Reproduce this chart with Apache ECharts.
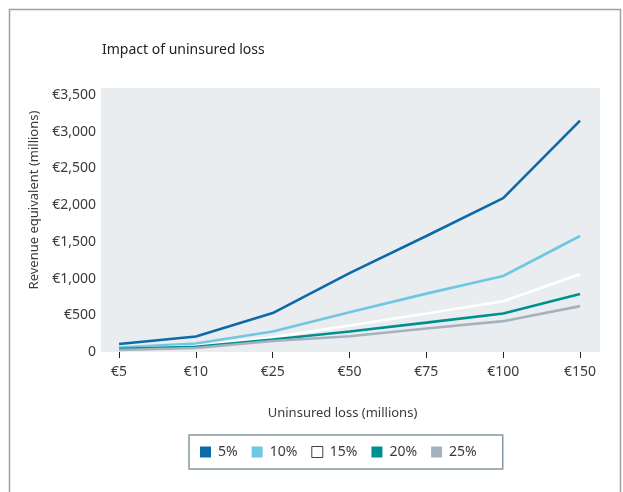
<!DOCTYPE html>
<html>
<head>
<meta charset="utf-8">
<script src="https://cdn.jsdelivr.net/npm/echarts@6/dist/echarts.min.js"></script>
<style>
  html, body { margin: 0; padding: 0; background: #fff; }
  #chart { width: 623px; height: 492px; }
</style>
</head>
<body>
<div id="chart"></div>
<script>
// uninsured loss categories (millions)
var categories = ['€5', '€10', '€25', '€50', '€75', '€100', '€150'];
var yTicks = [0, 500, 1000, 1500, 2000, 2500, 3000, 3500];

// revenue equivalent per profit margin
var margin5 = [110, 210, 530, 1075, 1580, 2095, 3150];
var margin10 = [60, 115, 280, 540, 795, 1035, 1580];
var margin15 = [40, 80, 200, 360, 525, 690, 1060];
var margin20 = [45, 70, 170, 280, 400, 525, 790];
var margin25 = [27, 55, 150, 215, 320, 420, 625];

var names = ['5%', '10%', '15%', '20%', '25%'];
var colors = ['#0b6aa7', '#6fc7e1', '#ffffff', '#008f8f', '#a5b2bb'];
var allData = [margin5, margin10, margin15, margin20, margin25];

var font = 'Noto Sans';
var textColor = '#3a3a3a';

function pts(arr) {
  return arr.map(function (v, i) { return [i, v]; });
}

var series = allData.map(function (arr, k) {
  return {
    name: names[k],
    type: 'line',
    data: pts(arr),
    symbol: 'none',
    smooth: false,
    lineStyle: { color: colors[k], width: 2.6 },
    itemStyle: { color: colors[k] }
  };
});

var chart = echarts.init(document.getElementById('chart'));
chart.setOption({
  animation: false,
  textStyle: { fontFamily: font },
  graphic: [{
    type: 'rect',
    silent: true,
    shape: { x: 9.5, y: 9.5, width: 611, height: 500 },
    style: { fill: 'none', stroke: '#97a3a9', lineWidth: 1.5 }
  }],
  title: {
    text: 'Impact of uninsured loss',
    left: 97,
    top: 38,
    textStyle: { fontFamily: font, fontSize: 14, fontWeight: 'normal', color: '#222' }
  },
  legend: {
    left: 189,
    top: 435,
    padding: [10, 26, 10, 11],
    borderColor: '#8796a0',
    borderWidth: 1.5,
    itemWidth: 11,
    itemHeight: 11,
    itemGap: 14,
    icon: 'rect',
    textStyle: { fontFamily: font, fontSize: 14, color: textColor, padding: [0, 0, 0, 2] },
    data: names.map(function (n, k) {
      var d = { name: n, itemStyle: { color: colors[k] } };
      if (k === 2) d.itemStyle = { color: '#fff', borderColor: '#444', borderWidth: 1 };
      return d;
    })
  },
  grid: {
    left: 101,
    right: 23,
    top: 88,
    bottom: 140,
    show: true,
    backgroundColor: '#e9edf0',
    borderWidth: 0,
    outerBoundsMode: 'none'
  },
  xAxis: {
    type: 'value',
    min: -0.235,
    max: 6.26,
    name: 'Uninsured loss (millions)',
    nameLocation: 'middle',
    nameGap: 55,
    nameTextStyle: { fontFamily: font, fontSize: 13, color: textColor, padding: [0, 16, 0, 0] },
    axisLine: { show: false },
    splitLine: { show: false },
    axisTick: {
      show: true,
      length: 6,
      customValues: categories.map(function (c, i) { return i; }),
      lineStyle: { color: '#222', width: 1 }
    },
    axisLabel: {
      customValues: categories.map(function (c, i) { return i; }),
      margin: 13,
      fontFamily: font,
      fontSize: 14,
      color: textColor,
      formatter: function (v) { return categories[Math.round(v)]; }
    }
  },
  yAxis: {
    type: 'value',
    min: 0,
    max: 3595,
    name: 'Revenue equivalent (millions)',
    nameLocation: 'middle',
    nameGap: 60,
    nameTextStyle: { fontFamily: font, fontSize: 13, color: textColor, padding: [0, 0, 0, 40] },
    axisLine: { show: false },
    axisTick: { show: false },
    splitLine: { show: false },
    axisLabel: {
      customValues: yTicks,
      margin: 5,
      fontFamily: font,
      fontSize: 14,
      color: textColor,
      formatter: function (v) {
        return v === 0 ? '0' : '€' + v.toLocaleString('en-US');
      }
    }
  },
  series: series
});
</script>
</body>
</html>
